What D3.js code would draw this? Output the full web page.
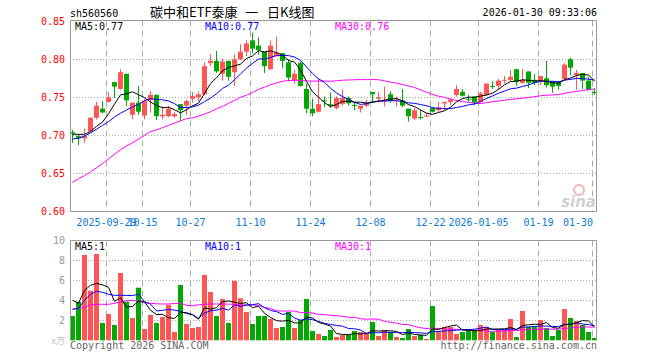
<!DOCTYPE html>
<html><head><meta charset="utf-8">
<script src="https://cdn.jsdelivr.net/npm/d3@7"></script>
<style>
html,body{margin:0;padding:0;background:#fff;}
svg{display:block;}
text{font-family:"DejaVu Sans Mono",monospace;font-size:10px;}
</style></head>
<body>
<svg id="c" width="660" height="360"></svg>
<script>
// ---------- DATA ----------
const dates = ["2025-09-19","2025-09-22","2025-09-23","2025-09-24","2025-09-25","2025-09-26","2025-09-29","2025-09-30",
"2025-10-09","2025-10-10","2025-10-13","2025-10-14","2025-10-15","2025-10-16","2025-10-17","2025-10-20","2025-10-21","2025-10-22","2025-10-23","2025-10-24","2025-10-27","2025-10-28","2025-10-29","2025-10-30","2025-10-31",
"2025-11-03","2025-11-04","2025-11-05","2025-11-06","2025-11-07","2025-11-10","2025-11-11","2025-11-12","2025-11-13","2025-11-14","2025-11-17","2025-11-18","2025-11-19","2025-11-20","2025-11-21","2025-11-24","2025-11-25","2025-11-26","2025-11-27","2025-11-28",
"2025-12-01","2025-12-02","2025-12-03","2025-12-04","2025-12-05","2025-12-08","2025-12-09","2025-12-10","2025-12-11","2025-12-12","2025-12-15","2025-12-16","2025-12-17","2025-12-18","2025-12-19","2025-12-22","2025-12-23","2025-12-24","2025-12-25","2025-12-26","2025-12-29","2025-12-30","2025-12-31",
"2026-01-05","2026-01-06","2026-01-07","2026-01-08","2026-01-09","2026-01-12","2026-01-13","2026-01-14","2026-01-15","2026-01-16","2026-01-19","2026-01-20","2026-01-21","2026-01-22","2026-01-23","2026-01-26","2026-01-27","2026-01-28","2026-01-29","2026-01-30"];

const open  = [0.704,0.699,0.696,0.705,0.723,0.735,0.744,0.770,0.761,0.781,
0.727,0.743,0.726,0.746,0.753,0.725,0.725,0.725,0.741,0.739,
0.748,0.750,0.754,0.795,0.798,0.781,0.798,0.783,0.800,0.810,
0.825,0.818,0.810,0.787,0.804,0.808,0.796,0.772,0.795,0.761,
0.735,0.731,0.746,0.741,0.736,0.741,0.749,0.740,0.735,0.739,
0.757,0.748,0.745,0.754,0.746,0.746,0.735,0.722,0.724,0.726,
0.736,0.733,0.742,0.744,0.753,0.757,0.748,0.751,0.744,0.753,
0.765,0.765,0.772,0.773,0.787,0.769,0.784,0.773,0.771,0.775,
0.771,0.771,0.774,0.800,0.779,0.782,0.772,0.757];
const high  = [0.707,0.701,0.709,0.724,0.744,0.745,0.757,0.770,0.787,0.781,
0.743,0.765,0.748,0.758,0.754,0.738,0.739,0.731,0.741,0.747,
0.757,0.758,0.796,0.807,0.811,0.801,0.798,0.806,0.820,0.825,
0.835,0.829,0.810,0.825,0.830,0.808,0.800,0.786,0.797,0.768,
0.748,0.775,0.751,0.756,0.751,0.760,0.751,0.744,0.739,0.747,
0.757,0.757,0.764,0.758,0.751,0.761,0.735,0.736,0.733,0.729,
0.737,0.744,0.744,0.749,0.766,0.761,0.753,0.751,0.757,0.769,
0.771,0.774,0.778,0.786,0.787,0.787,0.784,0.781,0.778,0.798,
0.771,0.771,0.795,0.802,0.786,0.782,0.777,0.762];
const low   = [0.690,0.687,0.690,0.704,0.721,0.729,0.743,0.749,0.760,0.739,
0.721,0.727,0.721,0.730,0.720,0.721,0.724,0.723,0.719,0.727,
0.743,0.745,0.753,0.791,0.782,0.772,0.772,0.765,0.799,0.804,
0.808,0.806,0.782,0.786,0.804,0.788,0.771,0.768,0.764,0.729,
0.725,0.730,0.737,0.736,0.734,0.739,0.739,0.733,0.730,0.737,
0.743,0.743,0.738,0.743,0.738,0.737,0.718,0.720,0.721,0.724,
0.730,0.731,0.733,0.740,0.751,0.751,0.744,0.740,0.743,0.752,
0.761,0.760,0.768,0.771,0.765,0.768,0.762,0.766,0.766,0.763,
0.756,0.760,0.772,0.779,0.760,0.761,0.759,0.753];
const close = [0.702,0.696,0.699,0.723,0.739,0.730,0.750,0.764,0.783,0.746,
0.743,0.731,0.745,0.753,0.725,0.727,0.735,0.728,0.733,0.745,
0.752,0.754,0.791,0.798,0.784,0.797,0.777,0.800,0.810,0.821,
0.814,0.812,0.791,0.818,0.809,0.798,0.776,0.781,0.765,0.735,
0.729,0.741,0.745,0.739,0.749,0.749,0.742,0.739,0.739,0.743,
0.754,0.750,0.746,0.745,0.747,0.739,0.725,0.733,0.723,0.726,
0.731,0.737,0.744,0.747,0.761,0.752,0.747,0.743,0.755,0.768,
0.764,0.772,0.773,0.777,0.770,0.773,0.769,0.769,0.778,0.766,
0.764,0.765,0.793,0.789,0.782,0.772,0.760,0.756];
// volume (万)
const volume = [2.43,3.86,8.53,4.96,8.63,1.73,2.63,1.53,6.73,3.86,
2.23,5.26,1.13,2.53,1.73,2.33,3.53,0.83,5.53,1.63,
1.23,1.33,6.53,4.83,2.43,4.13,1.73,5.93,4.20,2.83,
1.63,2.43,2.43,2.13,1.23,1.33,2.83,1.23,2.03,4.13,
0.93,0.63,0.43,1.03,0.33,0.53,0.53,0.93,0.83,0.63,
1.83,0.43,1.03,0.83,0.33,0.23,1.13,0.43,0.53,0.13,
3.43,0.93,1.33,1.33,0.63,0.83,1.03,0.93,1.53,1.33,
0.83,1.03,1.03,2.13,0.33,2.93,1.33,1.33,2.03,1.23,
0.43,1.03,3.13,2.23,1.93,1.53,0.83,0.23];
// moving-average values at the left edge (depend on sessions before the window)
const ma5Lead  = [0.7013,0.7013,0.7013,0.705];
const ma10Lead = [0.6952,0.696,0.699,0.703,0.708,0.713,0.718,0.724,0.729];
const ma30Lead = [0.638,0.643,0.647,0.652,0.657,0.663,0.669,0.675,0.681,0.686,
0.690,0.695,0.700,0.705,0.707,0.710,0.713,0.716,0.719,0.722,
0.723,0.725,0.728,0.731,0.735,0.738,0.742,0.746,0.750];
const vma5Lead  = [4.0,3.7,5.0,5.5];
const vma10Lead = [3.1,3.2,4.0,4.6,4.9,4.8,4.6,4.5,4.5];
const vma30Lead = [3.1,3.2,3.3,3.55,3.6,3.6,3.6,3.7,3.85,3.95,
4.0,3.9,3.75,3.7,3.65,3.63,3.63,3.68,3.7,3.5,
3.45,3.55,3.6,3.63,3.63,3.63,3.62,3.6,3.5];

const priceTicks = [0.60,0.65,0.70,0.75,0.80,0.85];
const volTicks = [2,4,6,8,10];
const tickDates = ["2025-09-29","2025-10-15","2025-10-27","2025-11-10","2025-11-24","2025-12-08","2025-12-22","2026-01-05","2026-01-19","2026-01-30"];
const tickLabels = ["2025-09-29","10-15","10-27","11-10","11-24","12-08","12-22","2026-01-05","01-19","01-30"];

const code = "sh560560";
const titleParts = ["碳中和ETF泰康","一","日K线图"];
const stamp = "2026-01-30 09:33:06";

// ---------- HELPERS ----------
function ma(vals, n, lead){
  return vals.map((v,i)=> i<n-1 ? lead[i] : d3.mean(vals.slice(i-n+1,i+1)));
}
const RED="#ff5555", GREEN="#00a800", GRID="#aaaaaa", BORDER="#999999";

const svg = d3.select("#c");
const L=70, R=597;
const x = d3.scaleBand().domain(dates).range([L-0.7, R+0.3]).paddingInner(0).paddingOuter(0);
const cx = d => Math.round(x(d) + x.bandwidth()/2);
const yP = d3.scaleLinear().domain([0.60,0.85]).range([211.3,21.3]);
const yV = d3.scaleLinear().domain([0,10]).range([340.3,240.3]);
const bodyW = 5;

// ---------- HEADER ----------
svg.append("text").attr("x",70).attr("y",16.5).attr("fill","#000").text(code);
const titleX = [150,245,267];
titleParts.forEach((t,k)=>{
  svg.append("text").attr("x",titleX[k]).attr("y",16.5).attr("fill","#000")
    .style("font-family","'Noto Sans CJK SC',sans-serif").style("font-size","13px").text(t);
});
svg.append("text").attr("x",597).attr("y",16).attr("text-anchor","end").attr("fill","#000").text(stamp);

function panel(top, bottom, yScale, ticks, gridTicks, tickColor, fmt){
  const g = svg.append("g");
  g.selectAll(".hg").data(gridTicks).enter().append("line")
    .attr("x1",L).attr("x2",R)
    .attr("y1",d=>Math.round(yScale(d))+0.5).attr("y2",d=>Math.round(yScale(d))+0.5)
    .attr("stroke",GRID).attr("stroke-dasharray","1,2");
  g.selectAll(".vg").data(tickDates).enter().append("line")
    .attr("x1",d=>cx(d)-1.5).attr("x2",d=>cx(d)-1.5)
    .attr("y1",top).attr("y2",bottom)
    .attr("stroke",GRID).attr("stroke-dasharray","6,4");
  g.selectAll(".yl").data(ticks).enter().append("text")
    .attr("x",65).attr("y",d=>yScale(d)+3.5).attr("text-anchor","end")
    .attr("fill",tickColor).text(fmt);
  return g;
}

// ---------- PRICE PANEL ----------
panel(20.5, 211, yP, priceTicks, [0.65,0.70,0.75,0.80], "#ff0000", d=>d.toFixed(2));

// sina watermark
const wm = svg.append("g");
wm.append("circle").attr("cx",579).attr("cy",190).attr("r",5).attr("fill","none").attr("stroke","#f3b4b4").attr("stroke-width",2);
wm.append("text").attr("x",596).attr("y",207).attr("text-anchor","end")
  .style("font-family","'DejaVu Sans',sans-serif").style("font-size","15px").style("font-weight","bold").style("font-style","italic")
  .attr("fill","#cfcfcf").text("sina");

const candles = svg.append("g");
dates.forEach((d,i)=>{
  const up = close[i] >= open[i];
  const col = up ? RED : GREEN;
  const c = cx(d);
  candles.append("line").attr("x1",c+0.5).attr("x2",c+0.5)
    .attr("y1",yP(high[i])).attr("y2",yP(low[i])).attr("stroke",col);
  const t = yP(Math.max(open[i],close[i])), b = yP(Math.min(open[i],close[i]));
  candles.append("rect").attr("x",c-2).attr("width",bodyW)
    .attr("y",t).attr("height",Math.max(1,b-t)).attr("fill",col);
});

const lineP = d3.line().x((v,i)=>cx(dates[i])+0.5).y(v=>yP(v));
const pm5 = ma(close,5,ma5Lead), pm10 = ma(close,10,ma10Lead), pm30 = ma(close,30,ma30Lead);
[[pm30,"#ff00ff"],[pm10,"#0000ff"],[pm5,"#000000"]].forEach(([arr,c])=>{
  svg.append("path").attr("d",lineP(arr)).attr("fill","none").attr("stroke",c).attr("stroke-width",1);
});

svg.append("path").attr("d",`M${L+0.5},211.5V20.5H${R-0.5}V211.5H${L+0.5}`).attr("fill","none").attr("stroke",BORDER);

svg.append("text").attr("x",75).attr("y",29.5).attr("fill","#000").text("MA5:"+pm5[pm5.length-1].toFixed(2));
svg.append("text").attr("x",205).attr("y",29.5).attr("fill","#0000ff").text("MA10:"+pm10[pm10.length-1].toFixed(2));
svg.append("text").attr("x",335).attr("y",29.5).attr("fill","#ff00ff").text("MA30:"+pm30[pm30.length-1].toFixed(2));

const xl = svg.append("g");
tickDates.forEach((d,k)=>{
  const t = xl.append("text").attr("y",225.5).attr("fill","#0a7ad6").text(tickLabels[k]);
  const w = t.node().getComputedTextLength();
  let px = cx(d)-1.5 - w/2;
  if (px + w > R-4) px = R-4-w;
  t.attr("x",px);
});

// ---------- VOLUME PANEL ----------
panel(240.5, 340.5, yV, volTicks, [2,4,6,8], "#999999", d=>String(d));
const vb = svg.append("g");
dates.forEach((d,i)=>{
  const col = close[i] >= open[i] ? RED : GREEN;
  const c = cx(d);
  vb.append("rect").attr("x",c-2).attr("width",bodyW)
    .attr("y",yV(volume[i])).attr("height",yV(0)-yV(volume[i])).attr("fill",col);
});
const lineV = d3.line().x((v,i)=>cx(dates[i])+0.5).y(v=>yV(v));
const vm5 = ma(volume,5,vma5Lead), vm10 = ma(volume,10,vma10Lead), vm30 = ma(volume,30,vma30Lead);
[[vm30,"#ff00ff"],[vm10,"#0000ff"],[vm5,"#000000"]].forEach(([arr,c])=>{
  svg.append("path").attr("d",lineV(arr)).attr("fill","none").attr("stroke",c).attr("stroke-width",1);
});
svg.append("path").attr("d",`M${L+0.5},340.5V240.5H${R-0.5}V340.5`).attr("fill","none").attr("stroke",BORDER);

svg.append("text").attr("x",75).attr("y",250).attr("fill","#000").text("MA5:"+Math.round(vm5[vm5.length-1]));
svg.append("text").attr("x",205).attr("y",250).attr("fill","#0000ff").text("MA10:"+Math.round(vm10[vm10.length-1]));
svg.append("text").attr("x",335).attr("y",250).attr("fill","#ff00ff").text("MA30:"+Math.round(vm30[vm30.length-1]));

svg.append("text").attr("x",65).attr("y",344).attr("text-anchor","end").attr("fill","#bbbbbb")
  .style("font-family","'Noto Sans CJK SC',sans-serif").style("font-size","9px").text("x万");
svg.append("text").attr("x",70).attr("y",349).attr("fill","#666").text("Copyright 2026 SINA.COM");
svg.append("text").attr("x",597).attr("y",349).attr("text-anchor","end").attr("fill","#666").text("http://finance.sina.com.cn");
</script>
</body></html>
